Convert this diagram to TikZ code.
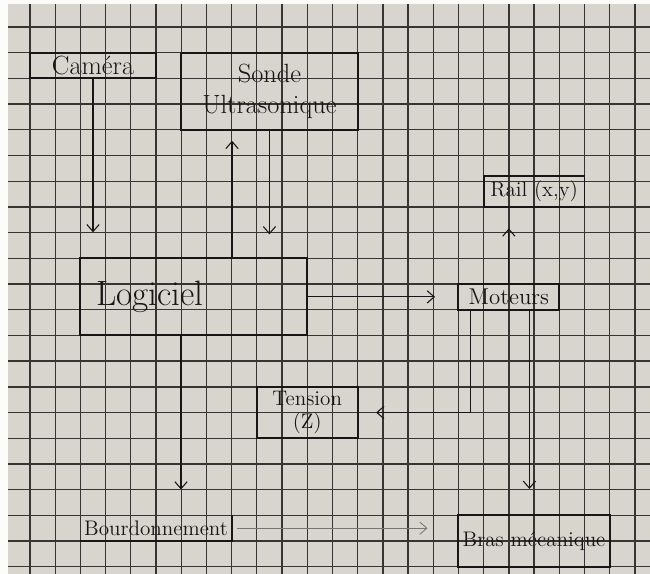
\documentclass[tikz,border=0pt]{standalone}
\usepackage{tikz}
\definecolor{paper}{RGB}{216,212,206}
\definecolor{gridink}{RGB}{55,53,51}
\definecolor{pen}{RGB}{22,22,22}
\definecolor{pencil}{RGB}{120,118,114}
\usetikzlibrary{arrows.meta,calc}

\begin{document}
\begin{tikzpicture}[x=0.504cm,y=-0.514cm,
  boxnode/.style={draw=pen,line width=1.1pt,inner sep=0pt,align=center,text=pen},
  sketcharrow/.style={-{Straight Barb[length=4pt,width=7pt]},line width=0.6pt,pen}
]
  % Paper and grid
  \useasboundingbox (-1.19,-1.05) rectangle (24.6,21.28);
  \fill[white!92!paper] (-1.19,-1.05) rectangle (24.6,21.28);
  \fill[paper] (-0.87,-0.9) rectangle (24.6,21.28);
  \foreach \c in {0,...,24} \draw[gridink,line width=0.75pt] (\c,-0.9) -- (\c,21.28);
  \foreach \r in {0,...,21} \draw[gridink,line width=0.75pt] (-0.87,\r) -- (24.6,\r);
  % Sensors
  \node[boxnode,minimum width=2.52cm,minimum height=0.514cm,font=\fontsize{15}{17}\selectfont]
    (camera) at (2.5,1.5) {Caméra};
  \node[boxnode,minimum width=3.528cm,minimum height=1.542cm,font=\fontsize{15}{18}\selectfont]
    (sonde) at (9.5,2.5) {Sonde\\Ultrasonique};
  % Software
  \node[boxnode,minimum width=4.536cm,minimum height=1.542cm,font=\fontsize{20}{24}\selectfont,
    text width=3.9cm,align=left,inner xsep=0.318cm] (logiciel) at (6.5,10.5) {Logiciel};
  % Actuators
  \node[boxnode,minimum width=2.016cm,minimum height=0.617cm,font=\fontsize{12}{14}\selectfont]
    (rail) at (20,6.4) {Rail (x,y)};
  \node[boxnode,minimum width=2.016cm,minimum height=0.514cm,font=\fontsize{13}{15}\selectfont]
    (moteurs) at (19,10.5) {Moteurs};
  \node[boxnode,minimum width=2.016cm,minimum height=1.028cm,font=\fontsize{12}{13}\selectfont]
    (tension) at (11,15) {Tension\\(Z)};
  \node[inner sep=0pt,minimum width=3.024cm,minimum height=0.514cm,font=\fontsize{12}{14}\selectfont,text=pen]
    (bourdon) at (5,19.5) {Bourdonnement};
  \draw[pen,line width=1.1pt] (bourdon.south west) -- (bourdon.south east) -- (bourdon.north east);
  \node[boxnode,minimum width=3.024cm,minimum height=1.028cm,font=\fontsize{12}{14}\selectfont]
    (bras) at (20,20) {Bras mécanique};
  % Arrows
  \draw[sketcharrow,shorten >=0.5cm] (camera.south) -- (camera.south |- logiciel.north);
  \draw[sketcharrow,shorten >=0.2cm] ($(logiciel.north west)!0.667!(logiciel.north east)$) coordinate (logup)
    -- (logup |- sonde.south);
  \draw[sketcharrow,shorten >=0.46cm] (sonde.south) -- (sonde.south |- logiciel.north);
  \draw[sketcharrow,shorten >=0.45cm] (logiciel.east) -- (moteurs.west);
  \draw[sketcharrow,shorten >=0.41cm] (moteurs.north) -- (moteurs.north |- rail.south);
  \draw[sketcharrow,shorten >=0.35cm] ($(moteurs.south west)!0.125!(moteurs.south east)$) |- (tension.east);
  \draw[sketcharrow,shorten >=0.51cm] ($(moteurs.south west)!0.7!(moteurs.south east)$) coordinate (motdown)
    -- (motdown |- bras.north);
  \draw[sketcharrow,shorten >=0.51cm] ($(logiciel.south west)!0.444!(logiciel.south east)$) coordinate (logdown)
    -- (logdown |- bourdon.north);
  \draw[sketcharrow,pencil,line width=0.5pt,shorten <=0.1cm,shorten >=0.6cm] (bourdon.east) -- (bourdon.east -| bras.west);
\end{tikzpicture}
\end{document}
